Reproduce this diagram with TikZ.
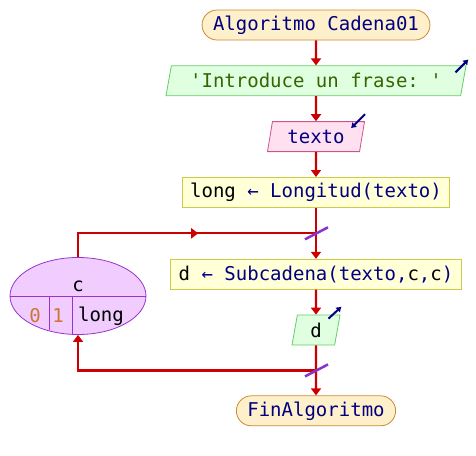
\documentclass[tikz,border=0pt]{standalone}
\usepackage{fontspec}
\setmonofont{DejaVu Sans Mono}
\usepackage{xcolor}
\usetikzlibrary{shapes.geometric, arrows.meta, positioning, calc, decorations.markings}
\definecolor{flowred}{RGB}{204,0,0}
\definecolor{termfill}{RGB}{255,240,204}
\definecolor{termdraw}{RGB}{204,136,51}
\definecolor{outfill}{RGB}{224,255,224}
\definecolor{outdraw}{RGB}{102,204,102}
\definecolor{infill}{RGB}{255,224,240}
\definecolor{indraw}{RGB}{204,85,136}
\definecolor{procfill}{RGB}{255,255,216}
\definecolor{procdraw}{RGB}{204,204,68}
\definecolor{loopfill}{RGB}{240,204,255}
\definecolor{loopdraw}{RGB}{153,51,204}
\definecolor{slashcol}{RGB}{136,51,204}
\definecolor{identblue}{RGB}{0,0,128}
\definecolor{strgreen}{RGB}{51,102,0}
\definecolor{numorange}{RGB}{204,119,51}
\newcommand{\var}[1]{\textcolor{black}{#1}}

\begin{document}
\begin{tikzpicture}[x=1pt, y=-1pt,
  every node/.style={font=\fontsize{19}{22}\selectfont\ttfamily, text=identblue},
  term/.style={draw=termdraw, fill=termfill, line width=0.8pt, rounded corners=15pt,
               minimum height=30pt, inner xsep=11pt, inner ysep=0pt},
  proc/.style={draw=procdraw, fill=procfill, line width=0.8pt, minimum height=30pt,
               inner xsep=8pt, inner ysep=0pt},
  iobox/.style={trapezium, trapezium left angle=70, trapezium right angle=110,
                trapezium stretches body, line width=0.8pt, minimum height=30pt,
                inner ysep=0pt},
  outbox/.style={iobox, draw=outdraw, fill=outfill},
  inbox/.style={iobox, draw=indraw, fill=infill},
  loopbox/.style={ellipse, draw=loopdraw, fill=loopfill, line width=0.8pt,
                  minimum width=136pt, minimum height=77pt},
  flow/.style={draw=flowred, line width=2.2pt, -{Triangle[width=10pt,length=7pt]}},
  icon/.style={draw=identblue, line width=2pt, -{Latex[width=7pt,length=5pt]}},
  slash/.style={draw=slashcol, line width=2.5pt},
  midarrow/.style={decoration={markings,
      mark=at position #1 with {\arrow{Triangle[width=10pt,length=7pt]}}},
      postaction={decorate}}
]
  \useasboundingbox (0,0) rectangle (476,455);

  % main column
  \node[term] (start) at (316,25) {Algoritmo Cadena01};
  \node[outbox, minimum width=300pt, below=25pt of start] (intro)
    {\textcolor{strgreen}{'Introduce un frase: '}};
  \node[inbox, minimum width=97pt, below=25pt of intro] (texto) {texto};
  \node[proc, below=25pt of texto] (long) {\var{long} ← Longitud(texto)};
  \node[proc, below=51pt of long] (sub)
    {\var{d} ← Subcadena(texto,\var{c},\var{c})};
  \node[outbox, minimum width=48pt, below=25pt of sub] (d) {\var{d}};
  \node[term, below=50pt of d] (fin) {FinAlgoritmo};

  \coordinate (j1) at ($(long.south)!0.5!(sub.north)$);
  \coordinate (j2) at ($(d.south)!0.5!(fin.north)$);

  % loop node
  \node[loopbox] (loop) at (78,296) {};
  \draw[loopdraw] (loop.west) -- (loop.east);
  \draw[loopdraw] ($(loop.center)+(-29,0)$) -- ($(loop.center)+(-29,34)$);
  \draw[loopdraw] ($(loop.center)+(-6,0)$) -- ($(loop.center)+(-6,38)$);
  \node[text=black] (lvar) at ($(loop.center)+(0,-10)$) {c};
  \node[text=numorange] (lfrom) at ($(loop.center)+(-43,20)$) {0};
  \node[text=numorange] (lstep) at ($(loop.center)+(-20,20)$) {1};
  \node[text=black] (lto) at ($(loop.center)+(23,20)$) {long};

  % connectors
  \draw[flow] (start) -- (intro);
  \draw[flow] (intro) -- (texto);
  \draw[flow] (texto) -- (long);
  \draw[flow] (long) -- (sub);
  \draw[flow] (sub) -- (d);
  \draw[flow] (d) -- (fin);
  \draw[flow, -, midarrow=0.55] (loop.north) |- (j1);
  \draw[flow] (j2) -| (loop.south);

  \draw[slash] ($(j1)+(-11,6)$) -- ($(j1)+(12,-6)$);
  \draw[slash] ($(j2)+(-11,6)$) -- ($(j2)+(12,-6)$);

  % io icons
  \draw[icon] ($(intro.top right corner)+(-11,7)$) -- ++(13,-13);
  \draw[icon] ($(texto.top right corner)+(0,-7)$) -- ++(-14,14);
  \draw[icon] ($(d.top right corner)+(-12,4)$) -- ++(13,-12);
\end{tikzpicture}
\end{document}
